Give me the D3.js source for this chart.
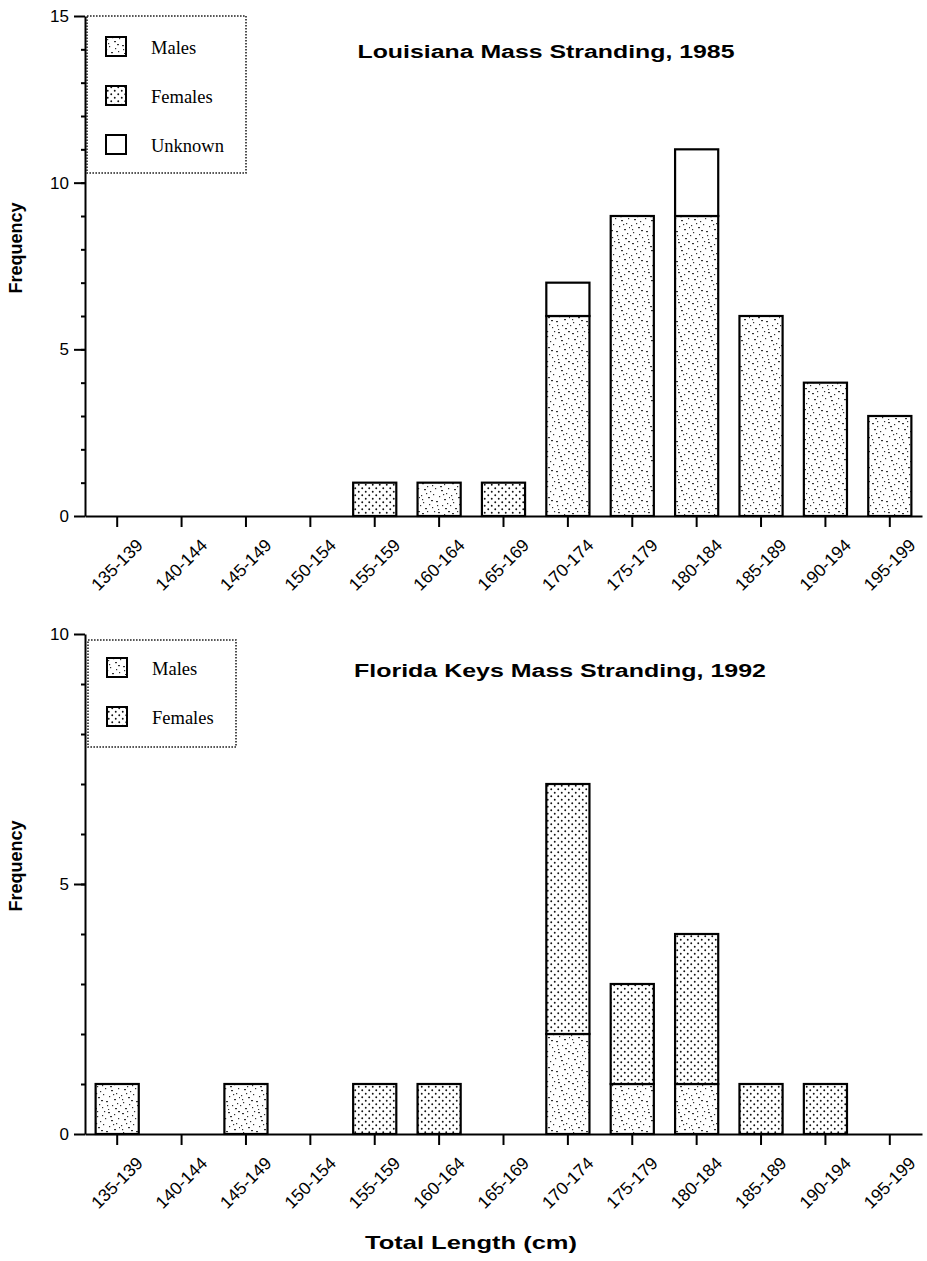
<!DOCTYPE html>
<html>
<head>
<meta charset="utf-8">
<script src="https://cdn.jsdelivr.net/npm/d3@7"></script>
<style>
  body { margin: 0; background: #fff; }
  svg { display: block; }
</style>
</head>
<body>
<div id="chart"></div>
<script>
// length classes (cm)
const categories = ["135-139", "140-144", "145-149", "150-154", "155-159", "160-164", "165-169",
                    "170-174", "175-179", "180-184", "185-189", "190-194", "195-199"];

// Louisiana 1985
const laMales   = [0, 0, 0, 0, 0, 1, 0, 6, 9, 9, 6, 4, 3];
const laFemales = [0, 0, 0, 0, 1, 0, 1, 0, 0, 0, 0, 0, 0];
const laUnknown = [0, 0, 0, 0, 0, 0, 0, 1, 0, 2, 0, 0, 0];
const laTicks   = [0, 5, 10, 15];

// Florida Keys 1992
const flMales   = [1, 0, 1, 0, 0, 0, 0, 2, 1, 1, 0, 0, 0];
const flFemales = [0, 0, 0, 0, 1, 1, 0, 5, 2, 3, 1, 1, 0];
const flTicks   = [0, 5, 10];

const W = 927, H = 1261;
const sans = "'Liberation Sans', Arial, Helvetica, sans-serif";
const serif = "'Liberation Serif', 'Times New Roman', serif";

const svg = d3.select("#chart").append("svg")
    .attr("width", W)
    .attr("height", H);

// 1. fill patterns (stipple for males, dot grid for females)
const defs = svg.append("defs");

const specks = [[2,3],[7,1],[12,5],[18,2],[24,4],[28,8],[4,9],[10,11],[15,8],[21,10],[26,13],
                [1,15],[8,17],[13,14],[19,16],[24,19],[3,22],[9,24],[16,21],[22,25],[27,23],
                [5,28],[12,27],[18,29],[25,28],[29,17],[6,13],[20,6],[14,1],[0,25],[11,20],
                [23,14],[17,25],[28,1],[7,6],[2,19]];
const mp = defs.append("pattern")
    .attr("id", "males")
    .attr("patternUnits", "userSpaceOnUse")
    .attr("width", 30).attr("height", 30);
mp.append("rect").attr("width", 30).attr("height", 30).attr("fill", "#fff");
mp.selectAll("rect.s")
  .data(specks)
  .enter().append("rect")
    .attr("class", "s")
    .attr("x", d => d[0]).attr("y", d => d[1])
    .attr("width", (d, i) => i % 3 === 0 ? 2 : 1.2)
    .attr("height", 1.2)
    .attr("fill", "#333");

const fp = defs.append("pattern")
    .attr("id", "females")
    .attr("patternUnits", "userSpaceOnUse")
    .attr("width", 7).attr("height", 7);
fp.append("rect").attr("width", 7).attr("height", 7).attr("fill", "#fff");
fp.append("circle").attr("cx", 1.75).attr("cy", 1.75).attr("r", 0.95).attr("fill", "#111");
fp.append("circle").attr("cx", 5.25).attr("cy", 5.25).attr("r", 0.95).attr("fill", "#111");

const fills = { Males: "url(#males)", Females: "url(#females)", Unknown: "#fff" };

function drawPanel(cfg) {
  const g = svg.append("g");

  const x = d3.scaleBand()
    .domain(categories)
    .range([85, 922])
    .paddingInner(0.33)
    .paddingOuter(0.165);

  const y = d3.scaleLinear()
    .domain([0, d3.max(cfg.ticks)])
    .range([cfg.bottom, cfg.top]);

  // 2. stacked bars
  const rows = categories.map((c, i) => {
    const r = { cat: c };
    cfg.keys.forEach(k => { r[k] = cfg.series[k][i]; });
    return r;
  });
  const series = d3.stack().keys(cfg.keys)(rows);

  g.selectAll("g.layer")
    .data(series)
    .enter().append("g")
      .attr("class", "layer")
    .selectAll("rect")
    .data(d => d.map(v => ({ key: d.key, v })))
    .enter().filter(d => d.v[1] > d.v[0])
    .append("rect")
      .attr("x", d => x(d.v.data.cat))
      .attr("y", d => y(d.v[1]))
      .attr("width", x.bandwidth())
      .attr("height", d => y(d.v[0]) - y(d.v[1]))
      .attr("fill", d => fills[d.key])
      .attr("stroke", "#000")
      .attr("stroke-width", 2.2);

  // 3. y axis (major + minor ticks)
  const yAxis = g.append("g")
      .attr("transform", "translate(85,0)")
      .call(d3.axisLeft(y).tickValues(cfg.ticks).tickSize(11).tickSizeOuter(0).tickPadding(5));
  g.append("g")
      .attr("transform", "translate(85,0)")
      .call(d3.axisLeft(y).tickValues(d3.range(1, d3.max(cfg.ticks))).tickSize(4).tickFormat(""))
    .select(".domain").remove();

  // 4. x axis
  const xAxis = g.append("g")
      .attr("transform", `translate(0,${cfg.bottom})`)
      .call(d3.axisBottom(x).tickSize(11).tickSizeOuter(0));
  xAxis.selectAll("text")
      .attr("x", 0).attr("y", 0).attr("dy", 0)
      .attr("transform", "translate(4,53) rotate(-45)")
      .style("text-anchor", "middle");

  g.selectAll(".domain, .tick line")
      .attr("stroke", "#000")
      .attr("stroke-width", 2);
  g.selectAll(".tick text")
      .attr("fill", "#000")
      .style("font-family", sans)
      .style("font-size", "17.5px");
  yAxis.selectAll(".tick text").style("font-size", "17px");

  // 5. titles
  g.append("text")
      .attr("x", cfg.titleX - cfg.titleLen / 2)
      .attr("y", cfg.titleY)
      .attr("textLength", cfg.titleLen)
      .attr("lengthAdjust", "spacingAndGlyphs")
      .style("font-family", sans)
      .style("font-weight", "bold")
      .style("font-size", "18px")
      .text(cfg.title);

  g.append("text")
      .attr("transform", `translate(22,${cfg.bottom - 268}) rotate(-90)`)
      .attr("text-anchor", "middle")
      .style("font-family", sans)
      .style("font-weight", "bold")
      .style("font-size", "18px")
      .text("Frequency");

  // 6. legend
  const lg = g.append("g");
  lg.append("rect")
      .attr("x", cfg.legend.x).attr("y", cfg.legend.y)
      .attr("width", cfg.legend.w).attr("height", cfg.legend.h)
      .attr("fill", "none")
      .attr("stroke", "#222")
      .attr("stroke-width", 1.6)
      .attr("stroke-dasharray", "1.6,1.4");

  cfg.keys.forEach((k, i) => {
    const item = lg.append("g")
      .attr("transform", `translate(${cfg.legend.x + 19},${cfg.legend.y + cfg.legend.first + i * cfg.legend.step})`);
    item.append("rect")
      .attr("width", 20).attr("height", 19)
      .attr("y", -17)
      .attr("fill", fills[k])
      .attr("stroke", "#000")
      .attr("stroke-width", 2);
    item.append("text")
      .attr("x", 45)
      .attr("y", 0)
      .style("font-family", serif)
      .style("font-size", "18.5px")
      .text(k);
  });
}

drawPanel({
  top: 16, bottom: 516, ticks: laTicks,
  keys: ["Males", "Females", "Unknown"],
  series: { Males: laMales, Females: laFemales, Unknown: laUnknown },
  title: "Louisiana Mass Stranding, 1985", titleX: 546, titleY: 58, titleLen: 377,
  legend: { x: 87, y: 16, w: 159, h: 157, first: 38, step: 49 }
});

drawPanel({
  top: 634, bottom: 1134, ticks: flTicks,
  keys: ["Males", "Females"],
  series: { Males: flMales, Females: flFemales },
  title: "Florida Keys Mass Stranding, 1992", titleX: 560, titleY: 677, titleLen: 412,
  legend: { x: 88, y: 640, w: 148, h: 107, first: 35, step: 49 }
});

svg.append("text")
    .attr("x", 471 - 106)
    .attr("y", 1249)
    .attr("textLength", 212)
    .attr("lengthAdjust", "spacingAndGlyphs")
    .style("font-family", sans)
    .style("font-weight", "bold")
    .style("font-size", "19px")
    .text("Total Length (cm)");
</script>
</body>
</html>
